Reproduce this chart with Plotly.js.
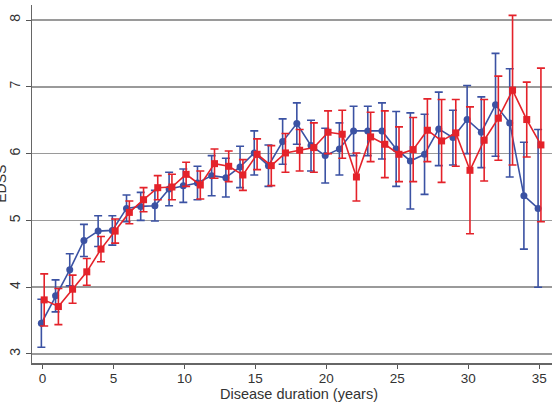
<!DOCTYPE html>
<html>
<head>
<meta charset="utf-8">
<script src="https://cdn.plot.ly/plotly-3.0.1.min.js"></script>
<style>
  html, body { margin: 0; padding: 0; background: #fff; }
  #chart { width: 552px; height: 402px; }
</style>
</head>
<body>
<div id="chart"></div>
<script>
// Disease duration in years
const duration = [0,1,2,3,4,5,6,7,8,9,10,11,12,13,14,15,16,17,18,19,20,21,22,23,24,25,26,27,28,29,30,31,32,33,34,35];

// Blue group: mean EDSS and half-width of the error bar
const blueMean = [3.46,3.87,4.26,4.70,4.84,4.85,5.18,5.21,5.22,5.47,5.52,5.56,5.67,5.64,5.80,6.01,5.82,6.18,6.45,6.12,5.97,6.07,6.34,6.34,6.34,6.07,5.89,5.99,6.37,6.24,6.51,6.32,6.73,6.46,5.37,5.18];
const blueErr  = [0.36,0.24,0.24,0.24,0.23,0.22,0.20,0.21,0.23,0.25,0.25,0.25,0.30,0.29,0.31,0.33,0.31,0.34,0.31,0.38,0.41,0.39,0.37,0.37,0.42,0.56,0.72,0.60,0.55,0.41,0.51,0.53,0.77,0.81,0.80,1.18];

// Red group: mean EDSS and half-width of the error bar
const redMean = [3.81,3.71,3.97,4.23,4.57,4.84,5.12,5.31,5.49,5.50,5.69,5.53,5.85,5.81,5.68,5.99,5.82,6.01,6.05,6.09,6.32,6.29,5.65,6.25,6.14,5.99,6.06,6.35,6.19,6.31,5.75,6.20,6.53,6.95,6.51,6.13];
const redErr  = [0.39,0.27,0.21,0.20,0.19,0.18,0.17,0.18,0.18,0.19,0.18,0.21,0.22,0.23,0.23,0.23,0.30,0.29,0.31,0.37,0.32,0.36,0.36,0.37,0.50,0.41,0.48,0.47,0.62,0.50,0.95,0.61,0.63,1.12,0.56,1.15];

const xTicks = [0,5,10,15,20,25,30,35];
const yTicks = [3,4,5,6,7,8];

const xTitle = 'Disease duration (years)';
const yTitle = 'EDSS';

// small horizontal dodge so the two groups' bars don't overlap
const blueX = duration.map(d => d - 0.08);
const redX  = duration.map(d => d + 0.12);

const BLUE = '#3b52a3';
const RED  = '#e4222a';

const traces = [
  {
    x: blueX, y: blueMean, type: 'scatter', mode: 'lines+markers',
    line: { color: BLUE, width: 1.6 },
    marker: { color: BLUE, size: 7, symbol: 'circle' },
    error_y: { type: 'data', array: blueErr, visible: true, color: BLUE, thickness: 1.6, width: 4 },
    showlegend: false
  },
  {
    x: redX, y: redMean, type: 'scatter', mode: 'lines+markers',
    line: { color: RED, width: 1.6 },
    marker: { color: RED, size: 7, symbol: 'square' },
    error_y: { type: 'data', array: redErr, visible: true, color: RED, thickness: 1.6, width: 4 },
    showlegend: false
  }
];

const layout = {
  width: 552, height: 402,
  margin: { l: 32, r: 0, t: 5, b: 39, pad: 0 },
  paper_bgcolor: '#fff', plot_bgcolor: '#fff',
  font: { family: 'Liberation Sans, Arial, sans-serif', size: 14, color: '#333' },
  xaxis: {
    range: [-0.74, 35.9],
    tickvals: xTicks, ticktext: xTicks.map(String),
    ticks: 'outside', ticklen: 4, tickcolor: '#555', tickwidth: 1,
    ticklabelstandoff: -2,
    showline: true, linecolor: '#666', linewidth: 1.5,
    showgrid: false, zeroline: false,
    tickfont: { size: 13.5, color: '#333' },
    automargin: false
  },
  yaxis: {
    range: [2.865, 8.225],
    tickvals: yTicks, ticktext: yTicks.map(String),
    tickangle: -90,
    ticks: 'outside', ticklen: 5, tickcolor: '#555', tickwidth: 1,
    showline: true, linecolor: '#666', linewidth: 1.5,
    showgrid: true, gridcolor: '#9a9a9a', gridwidth: 1.5,
    zeroline: false,
    tickfont: { size: 14, color: '#333' },
    automargin: false
  },
  annotations: [
    {
      text: xTitle, xref: 'paper', yref: 'paper',
      x: 0.513, y: -0.086, xanchor: 'center', yanchor: 'middle',
      showarrow: false, borderpad: 0, font: { size: 14.5, color: '#333' }
    },
    {
      text: yTitle, xref: 'paper', yref: 'paper', textangle: -90,
      x: -0.06, y: 0.5, xanchor: 'center', yanchor: 'middle',
      showarrow: false, font: { size: 14, color: '#333' }
    }
  ]
};

Plotly.newPlot('chart', traces, layout, { displayModeBar: false, staticPlot: true });
</script>
</body>
</html>
